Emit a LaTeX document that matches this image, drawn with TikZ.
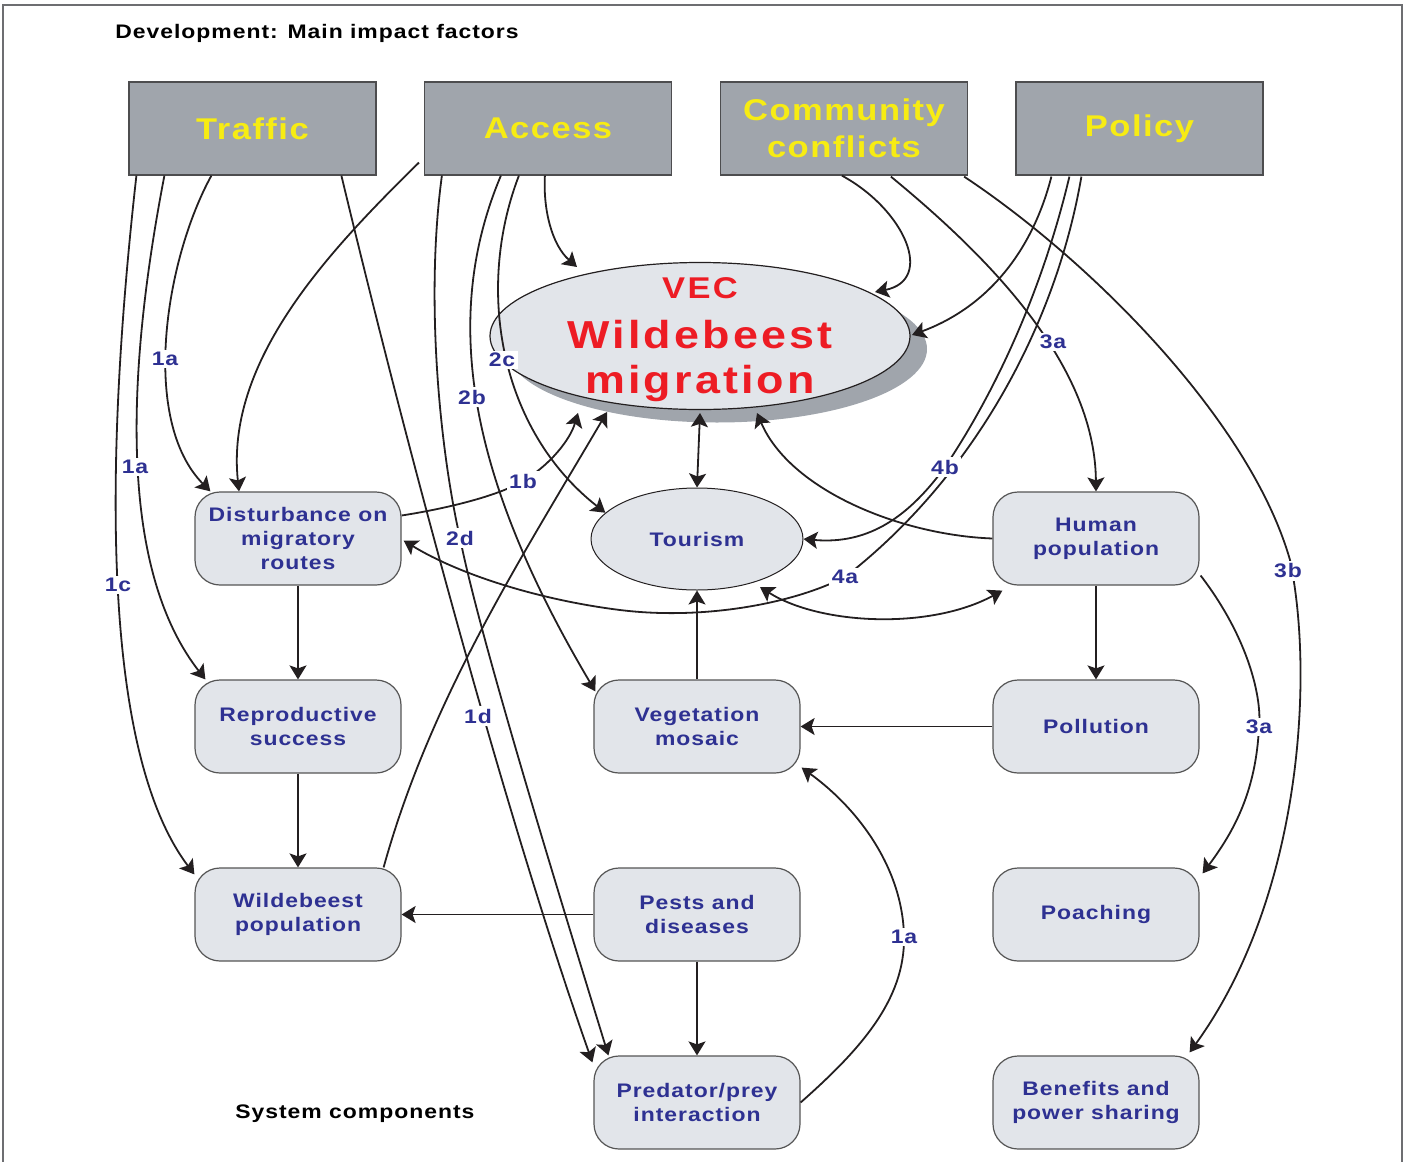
\documentclass[tikz,border=0pt]{standalone}
\usepackage{fontspec}
\setmainfont{Liberation Sans}
\newfontfamily\wfont[FakeStretch=1.17,LetterSpace=5]{Liberation Sans}
\newfontfamily\ffont[FakeStretch=1.15,LetterSpace=5]{Liberation Sans}
\newfontfamily\vfont[FakeStretch=1.15,LetterSpace=8]{Liberation Sans}
\usetikzlibrary{arrows.meta,calc,shapes.geometric}
\definecolor{factorgray}{HTML}{A0A5AC}
\definecolor{boxborder}{HTML}{4D4D4F}
\definecolor{compfill}{HTML}{E2E5EA}
\definecolor{compborder}{HTML}{555555}
\definecolor{labblue}{HTML}{2E3192}
\definecolor{factoryellow}{HTML}{F7EC13}
\definecolor{vecred}{HTML}{ED1C24}
\definecolor{linecol}{HTML}{231F20}
\definecolor{framegray}{HTML}{6D6E71}
\tikzset{
  >={Stealth[length=7pt,width=8.5pt,inset=1.5pt]},
  factor/.style={rectangle, draw=boxborder, line width=0.6pt, fill=factorgray,
    minimum width=123.5pt, minimum height=46.5pt, inner sep=0pt, text=factoryellow,
    align=center, font={\ffont\bfseries\fontsize{15}{18.5}\selectfont}},
  comp/.style={rectangle, rounded corners=12.5pt, draw=compborder, line width=0.6pt,
    fill=compfill, minimum width=103pt, minimum height=46.5pt, inner sep=0pt,
    text=labblue, align=center, font={\wfont\bfseries\fontsize{9.8}{12}\selectfont}},
  tour/.style={ellipse, draw=linecol, line width=0.5pt, fill=compfill,
    minimum width=106pt, minimum height=51pt, inner sep=0pt, text=labblue,
    font={\wfont\bfseries\fontsize{9.8}{12}\selectfont}},
  vec/.style={ellipse, draw=linecol, line width=0.6pt, fill=compfill,
    minimum width=210pt, minimum height=73.5pt, inner sep=0pt},
  vecshadow/.style={ellipse, fill=factorgray, minimum width=210pt,
    minimum height=73.5pt, inner sep=0pt},
  vectxt/.style={anchor=base, inner sep=0pt, text=vecred},
  lbl/.style={fill=white, inner sep=1.2pt, text=labblue,
    font={\wfont\bfseries\fontsize{9.8}{12}\selectfont}},
  heading/.style={anchor=west, inner sep=0pt, text=black,
    font={\wfont\bfseries\fontsize{9.8}{12}\selectfont}},
  conn/.style={draw=linecol, line width=0.9pt, ->},
}
\begin{document}
\begin{tikzpicture}[x=0.5pt, y=-0.5pt]
\useasboundingbox (0,0) rectangle (1409,1162);
% frame
\draw[framegray, line width=1pt] (3,1165) -- (3,5) -- (1402,5) -- (1402,1165);
% headings
\node[heading] (title) at (115,33) {Development: Main impact factors};
\node[heading] (syscomp) at (235,1114) {System components};
% factor boxes
\node[factor] (TR) at (252.5,128.5) {Traffic};
\node[factor] (AC) at (548,128.5) {Access};
\node[factor] (CC) at (844,128.5) {Community\\conflicts};
\node[factor] (PO) at (1139.5,128.5) {Policy};
% VEC
\node[vecshadow] (VECS) at (717,349) {};
\node[vec] (VEC) at (700,336) {};
\node[vectxt, font={\vfont\bfseries\fontsize{15}{18}\selectfont}] (VT1) at (700,298) {VEC};
\node[vectxt, font={\vfont\bfseries\fontsize{19.5}{23}\selectfont}] (VT2) at (700,348) {Wildebeest};
\node[vectxt, font={\vfont\bfseries\fontsize{19.5}{23}\selectfont}] (VT3) at (700,393) {migration};
% components
\node[tour] (TO) at (697,539) {Tourism};
\node[comp] (DI) at (298,538.5) {Disturbance on\\migratory\\routes};
\node[comp] (RS) at (298,726.5) {Reproductive\\success};
\node[comp] (WP) at (298,914.5) {Wildebeest\\population};
\node[comp] (VG) at (697,726.5) {Vegetation\\mosaic};
\node[comp] (PD) at (697,914.5) {Pests and\\diseases};
\node[comp] (PR) at (697,1102.5) {Predator/prey\\interaction};
\node[comp] (HP) at (1096,538.5) {Human\\population};
\node[comp] (PL) at (1096,726.5) {Pollution};
\node[comp] (PC) at (1096,914.5) {Poaching};
\node[comp] (BE) at (1096,1102.5) {Benefits and\\power sharing};
% Traffic connectors
\draw[conn] ($(TR.south west)+(8,0)$) .. controls (100,500) and (108,760) .. ($(WP.north west)+(0,7)$);
\draw[conn] ($(TR.south west)+(36,0)$) .. controls (125,380) and (120,570) .. ($(RS.north west)+(11,0)$);
\draw[conn] ($(TR.south west)+(83,0)$) .. controls (165,260) and (140,420) .. ($(DI.north west)+(16,0)$);
\draw[conn] ($(TR.south west)+(213,0)$) .. controls (400,420) and (500,800) .. ($(PR.north west)+(-1,7)$);
% Access connectors
\draw[conn] ($(AC.south west)+(18,0)$) .. controls (425,300) and (440,450) .. (460,538) .. controls (480,640) and (570,930) .. ($(PR.north west)+(15,0)$);
\draw[conn] ($(AC.south west)+(-5,-13)$) .. controls (330,250) and (225,360) .. ($(DI.north)+(-59,0)$);
\draw[conn] ($(AC.south west)+(77,0)$) .. controls (440,320) and (470,480) .. ($(VG.north west)+(2,12)$);
\draw[conn] ($(AC.south west)+(95,0)$) .. controls (475,290) and (500,430) .. (TO.164);
\draw[conn] ($(AC.south west)+(121,0)$) .. controls (543,210) and (552,245) .. ($(VEC.center)+(-123,-69)$);
% Community connectors
\draw[conn] ($(CC.south west)+(122,0)$) .. controls (905,210) and (935,280) .. ($(VEC.center)+(175,-44)$);
\draw[conn] ($(CC.south west)+(171,1)$) .. controls (980,250) and (1095,360) .. (HP.north);
\draw[conn] ($(CC.south east)+(-4,1)$) .. controls (1090,260) and (1250,420) .. (1290,560) .. controls (1315,680) and (1300,900) .. ($(BE.north east)+(-10,-3)$);
% Policy connectors
\draw[conn] ($(PO.south west)+(36,1)$) .. controls (1030,260) and (980,310) .. ($(VEC.center)+(212,-1)$);
\draw[conn] ($(PO.south west)+(54,1)$) .. controls (1040,300) and (990,400) .. (945,467) .. controls (910,515) and (870,545) .. (TO.east);
\draw[conn] ($(PO.south west)+(66,1)$) .. controls (1055,330) and (970,480) .. (845,577) .. controls (790,605) and (700,620) .. (620,610) .. controls (540,600) and (460,575) .. ($(DI.east)+(2,2)$);
% component connectors
\draw[conn] (HP.west) .. controls (900,535) and (790,490) .. ($(VEC.center)+(57,77)$);
\draw[conn,<->] ($(VEC.center)+(0,77)$) -- (TO.north);
\draw[conn] (VG.north) -- (TO.south);
\draw[conn,<->] ($(TO.center)+(63,48)$) .. controls (820,625) and (930,630) .. ($(HP.south west)+(10,5)$);
\draw[conn] ($(DI.east)+(0,-23)$) .. controls (450,508) and (500,495) .. (523,481) .. controls (550,465) and (570,440) .. ($(VEC.center)+(-122,77)$);
\draw[conn] ($(WP.north east)+(-18,0)$) .. controls (430,700) and (520,560) .. ($(VEC.center)+(-93,76)$);
\draw[conn] (DI.south) -- (RS.north);
\draw[conn] (RS.south) -- (WP.north);
\draw[conn] (PD.west) -- (WP.east);
\draw[conn] (PD.south) -- (PR.north);
\draw[conn] (PL.west) -- (VG.east);
\draw[conn] (HP.south) -- (PL.north);
\draw[conn] ($(HP.east)+(1,37)$) .. controls (1250,640) and (1262,700) .. (1259,727) .. controls (1256,790) and (1235,830) .. ($(PC.north east)+(3,6)$);
\draw[conn] (PR.east) .. controls (860,1050) and (905,1000) .. (904,937) .. controls (903,870) and (860,810) .. ($(VG.south east)+(1,-6)$);
% labels
\node[lbl] (L1c) at (118,585) {1c};
\node[lbl] (L1a1) at (135,467) {1a};
\node[lbl] (L1a2) at (165,359) {1a};
\node[lbl] (L1d) at (478,716) {1d};
\node[lbl] (L2d) at (460,538) {2d};
\node[lbl] (L2b) at (472,397) {2b};
\node[lbl] (L2c) at (502,360) {2c};
\node[lbl] (L1b) at (523,481) {1b};
\node[lbl] (L3a1) at (1053,342) {3a};
\node[lbl] (L4b) at (945,467) {4b};
\node[lbl] (L4a) at (845,577) {4a};
\node[lbl] (L3b) at (1288,571) {3b};
\node[lbl] (L3a2) at (1259,727) {3a};
\node[lbl] (L1a3) at (904,937) {1a};
\end{tikzpicture}
\end{document}
